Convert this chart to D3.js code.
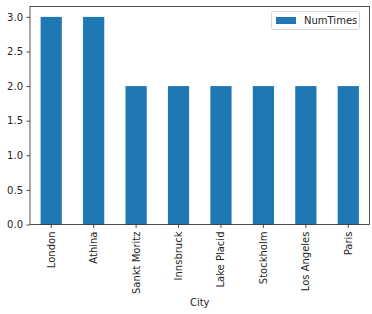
<!DOCTYPE html>
<html><head><meta charset="utf-8">
<script src="https://cdn.jsdelivr.net/npm/d3@7"></script>
<style>body{margin:0;background:#fff}svg{display:block}text{font-family:"DejaVu Sans",sans-serif;fill:#262626}</style>
</head><body><svg id="c" width="372" height="314"></svg>
<script>
const cities = ["London","Athina","Sankt Moritz","Innsbruck","Lake Placid","Stockholm","Los Angeles","Paris"];
const numTimes = [3,3,2,2,2,2,2,2];
const yTicks = [0,0.5,1.0,1.5,2.0,2.5,3.0];
const seriesName = "NumTimes";
const xLabel = "City";

const svg = d3.select("#c");
const L = 30, R = 369.5, T = 6.5, B = 224.5;
const x = d3.scaleBand().domain(cities).range([L, R]).paddingInner(0.5).paddingOuter(0.25);
const y = d3.scaleLinear().domain([0, 3.15]).range([B, T]);
const color = "#1f77b4";

svg.append("g").selectAll("rect").data(cities).join("rect")
  .attr("x", d => x(d)).attr("width", x.bandwidth())
  .attr("y", (d,i) => y(numTimes[i])).attr("height", (d,i) => y(0) - y(numTimes[i]))
  .attr("fill", color);

const ya = svg.append("g").attr("transform", `translate(${L},0)`)
  .call(d3.axisLeft(y).tickValues(yTicks).tickFormat(d3.format(".1f")).tickSize(3.5).tickPadding(3.5));
const xa = svg.append("g").attr("transform", `translate(0,${B})`)
  .call(d3.axisBottom(x).tickSize(3.5).tickPadding(3.5));
[ya, xa].forEach(g => {
  g.select(".domain").remove();
  g.selectAll("line").attr("stroke", "#262626").attr("stroke-width", 0.8);
  g.selectAll("text").attr("font-size", 10).attr("fill", "#262626");
});
xa.selectAll("text")
  .attr("transform", "rotate(-90)")
  .attr("text-anchor", "end").attr("x", -7).attr("y", 0).attr("dy", "0.35em");

svg.append("rect").attr("x", L).attr("y", T).attr("width", R - L).attr("height", B - T)
  .attr("fill", "none").attr("stroke", "#262626").attr("stroke-width", 0.8);

svg.append("text").attr("x", (L + R) / 2).attr("y", 306).attr("text-anchor", "middle")
  .attr("font-size", 10).text(xLabel);

const lg = svg.append("g");
lg.append("rect").attr("x", 271.5).attr("y", 11.5).attr("width", 88).attr("height", 18).attr("rx", 2)
  .attr("fill", "#fff").attr("stroke", "#cccccc").attr("stroke-width", 0.8);
lg.append("rect").attr("x", 276).attr("y", 17).attr("width", 20).attr("height", 7).attr("fill", color);
lg.append("text").attr("x", 304).attr("y", 20.5).attr("dy", "0.35em").attr("font-size", 10).text(seriesName);
</script></body></html>
